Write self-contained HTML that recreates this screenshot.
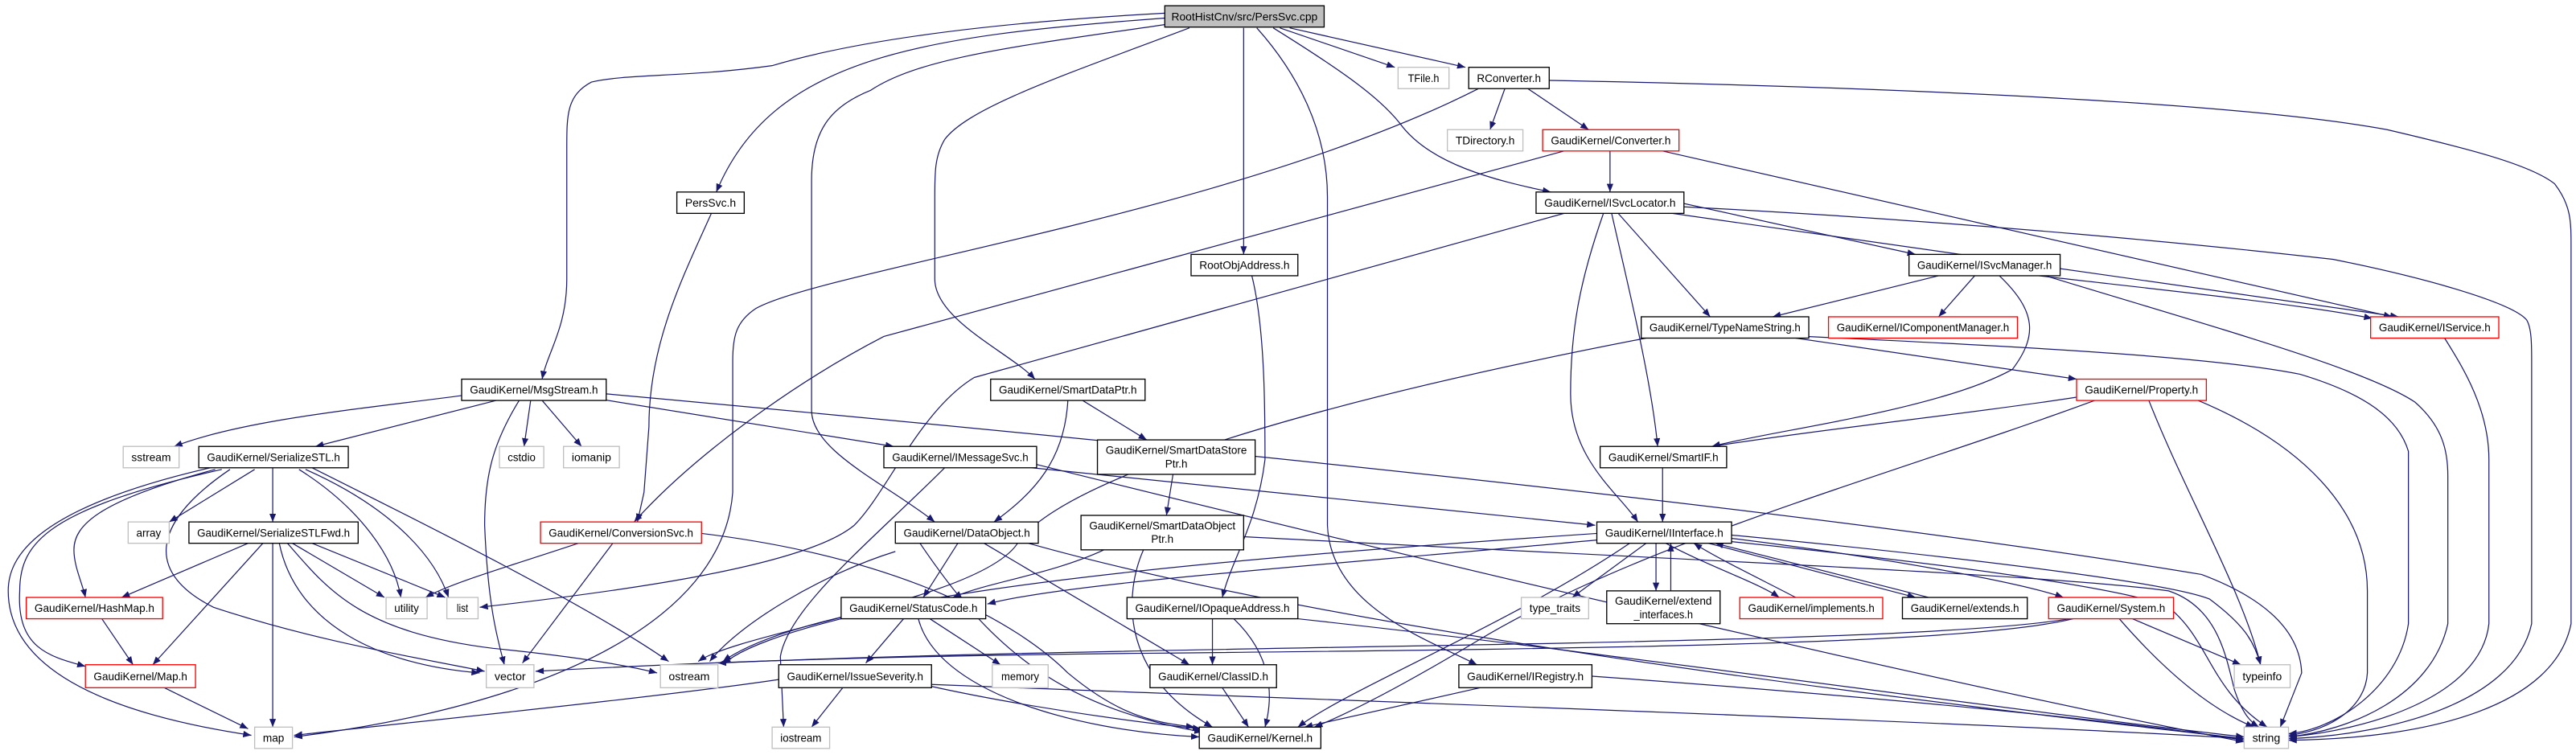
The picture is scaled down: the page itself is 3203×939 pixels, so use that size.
<!DOCTYPE html>
<html><head><meta charset="utf-8"><style>
html,body{margin:0;padding:0;background:#fff;}
svg{display:block;}
text{font-family:"Liberation Sans",sans-serif;font-size:6.6px;fill:#000;}
</style></head><body>
<svg width="3203" height="939" viewBox="0 0 1568 460" preserveAspectRatio="none" xmlns="http://www.w3.org/2000/svg">
<defs><marker id="a" markerWidth="5" markerHeight="4" refX="5" refY="2" orient="auto" markerUnits="userSpaceOnUse"><path d="M0,0 L5,2 L0,4 z" fill="#191970"/></marker></defs>
<g fill="none" stroke="#191970" stroke-width="0.6" marker-end="url(#a)">
<path d="M709,11 C560,22 470,35 436,117"/>
<path d="M709,8 C600,14 520,25 470,40 C420,47 380,45 360,50 C345,58 345,70 345,90 L345,170 C345,200 333,215 330,231"/>
<path d="M709,15 C620,28 560,35 530,55 C505,65 494,80 494,110 L494,250 C494,275 540,295 569,318"/>
<path d="M724,17 C650,45 590,65 575,85 C569,95 569,105 569,120 L569,170 C569,195 615,215 630,231"/>
<path d="M757,17 L757,155"/>
<path d="M765,17 C790,45 808,80 808,120 L808,320 C810,370 870,390 899,405"/>
<path d="M775,17 C820,45 840,60 852,75 C870,100 910,110 944,117"/>
<path d="M779,17 L849,41"/>
<path d="M785,17 L892,41"/>
<path d="M916,54 L907,79"/>
<path d="M930,54 L967,79"/>
<path d="M943,49 C1100,52 1350,60 1453,79 C1500,90 1540,100 1555,112 C1565,125 1565,135 1565,150 L1565,380 C1555,430 1480,450 1393,451"/>
<path d="M900,54 C750,130 500,165 460,188 C448,196 446,205 446,220 L446,300 C440,380 330,430 179,449"/>
<path d="M980,92 L980,117"/>
<path d="M952,92 L538,205 C480,235 420,280 386,318"/>
<path d="M1012,92 L1456,193"/>
<path d="M433,130 C415,170 395,210 395,260 L392,300 L388,318"/>
<path d="M952,130 L593,230 C560,250 540,300 520,320 C490,345 380,360 292,370"/>
<path d="M1025,124 L1166,155"/>
<path d="M985,130 L1041,193"/>
<path d="M981,130 C990,170 1005,230 1009,272"/>
<path d="M976,130 C962,170 956,200 956,240 C956,280 985,300 997,318"/>
<path d="M1025,126 C1200,135 1350,150 1420,158 C1480,170 1530,185 1538,195 C1541,200 1541,210 1541,220 L1541,380 C1530,430 1450,448 1393,450"/>
<path d="M1018,130 L1460,193"/>
<path d="M1180,168 L1079,193"/>
<path d="M1202,168 L1180,193"/>
<path d="M1217,168 C1240,190 1240,205 1225,225 C1180,250 1080,262 1042,272"/>
<path d="M1241,168 C1300,175 1400,185 1444,194"/>
<path d="M1245,168 C1350,200 1440,225 1470,245 C1487,260 1490,275 1490,290 L1490,380 C1480,425 1430,445 1393,449"/>
<path d="M1093,206 L1264,231"/>
<path d="M1100,205 C1250,212 1350,218 1400,228 C1440,240 1460,255 1466,275 L1466,380 C1460,420 1420,445 1393,447"/>
<path d="M1002,206 C800,245 650,290 620,330 C600,365 450,385 425,403"/>
<path d="M281,241 C230,248 150,255 106,272"/>
<path d="M302,244 L192,272"/>
<path d="M316,244 C300,270 295,290 295,320 C297,370 303,390 307,405"/>
<path d="M323,244 L319,272"/>
<path d="M330,244 L354,272"/>
<path d="M364,243 L544,272"/>
<path d="M369,240 C700,270 1100,310 1340,350 C1380,365 1400,385 1401,410 L1388,443"/>
<path d="M659,244 L698,268"/>
<path d="M650,244 C648,280 630,300 605,318"/>
<path d="M714,289 L710,314"/>
<path d="M672,335 C640,350 600,355 580,364"/>
<path d="M696,335 C685,360 680,410 738,443"/>
<path d="M757,327 C1000,340 1250,350 1320,360 C1350,370 1355,400 1360,420 C1365,435 1370,440 1375,443"/>
<path d="M628,285 L971,320"/>
<path d="M575,285 C530,330 480,370 475,400 L477,443"/>
<path d="M631,283 C900,350 1200,420 1366,452"/>
<path d="M583,331 L562,364"/>
<path d="M599,331 L724,405"/>
<path d="M560,331 C600,390 640,430 732,446"/>
<path d="M626,331 C800,380 1100,420 1366,450"/>
<path d="M545,336 C500,350 450,380 432,403"/>
<path d="M512,377 C480,385 450,395 440,405"/>
<path d="M550,377 L527,404"/>
<path d="M566,377 L609,405"/>
<path d="M559,377 C570,420 650,445 730,449"/>
<path d="M474,414 C400,425 250,440 179,448"/>
<path d="M513,419 L494,443"/>
<path d="M566,418 C620,430 690,440 731,444"/>
<path d="M567,417 C900,430 1200,440 1366,450"/>
<path d="M738,377 L738,405"/>
<path d="M751,377 C775,400 775,425 770,443"/>
<path d="M790,377 C1000,400 1200,430 1366,449"/>
<path d="M744,419 L760,443"/>
<path d="M901,419 L794,443"/>
<path d="M969,412 C1150,425 1300,440 1366,451"/>
<path d="M972,325 C750,340 500,360 440,403"/>
<path d="M992,331 C920,380 820,420 790,443"/>
<path d="M972,329 C800,345 650,355 601,368"/>
<path d="M1262,377 C1200,392 1000,395 700,398 C500,400 400,405 326,409"/>
<path d="M1260,377 C1150,395 700,392 437,404"/>
<path d="M1002,331 L957,364"/>
<path d="M1008,331 L1008,360"/>
<path d="M1017,360 L1017,331"/>
<path d="M1014,331 C1040,345 1070,355 1083,364"/>
<path d="M1093,364 C1070,352 1045,340 1031,331"/>
<path d="M1040,331 L1166,364"/>
<path d="M1174,364 L1044,331"/>
<path d="M1054,328 C1150,340 1230,355 1256,364"/>
<path d="M1054,326 C1200,340 1320,355 1345,365 C1365,380 1372,390 1376,405"/>
<path d="M1054,330 C1200,345 1300,360 1320,370 C1345,390 1345,420 1380,443"/>
<path d="M1012,285 L1012,318"/>
<path d="M1264,242 C1200,252 1120,260 1042,272"/>
<path d="M1275,244 C1150,290 1000,330 900,390 C850,420 820,435 800,443"/>
<path d="M1308,244 C1330,300 1365,360 1376,405"/>
<path d="M1338,244 C1400,270 1441,310 1441,360 L1441,410 C1440,430 1420,445 1393,448"/>
<path d="M1298,377 L1364,405"/>
<path d="M1290,377 C1310,400 1340,430 1372,443"/>
<path d="M1488,206 C1500,225 1515,250 1515,280 L1515,380 C1510,425 1440,445 1393,449"/>
<path d="M155,286 L103,318"/>
<path d="M166,285 L166,318"/>
<path d="M182,286 C220,310 240,340 244,364"/>
<path d="M186,286 C240,310 265,340 273,364"/>
<path d="M190,285 C260,320 360,370 407,403"/>
<path d="M131,286 C60,305 45,320 45,335 C45,345 50,355 52,364"/>
<path d="M135,286 C30,310 12,330 12,360 C10,395 30,400 52,406"/>
<path d="M128,285 C20,310 5,340 5,360 C5,420 100,440 153,448"/>
<path d="M140,286 C90,320 90,350 130,370 C190,390 250,400 295,409"/>
<path d="M151,331 L74,364"/>
<path d="M160,331 L93,405"/>
<path d="M166,331 L166,443"/>
<path d="M170,331 C180,380 230,405 292,410"/>
<path d="M175,331 C200,360 220,385 300,395 C350,400 380,405 400,410"/>
<path d="M178,331 L234,364"/>
<path d="M190,331 L271,364"/>
<path d="M352,331 C310,345 275,355 259,364"/>
<path d="M373,331 L318,404"/>
<path d="M427,325 C550,340 620,380 650,410 C680,435 700,440 727,443"/>
<path d="M62,377 L81,405"/>
<path d="M100,419 L151,444"/>
<path d="M762,168 C770,200 770,250 770,280 C765,320 750,340 744,364"/>
</g>
<g stroke-width="0.65" fill="#fff">
<rect x="709" y="3.5" width="97" height="13" fill="#bfbfbf" stroke="#000"/>
<rect x="851" y="41" width="31" height="13" stroke="#bfbfbf"/>
<rect x="894" y="41" width="49" height="13" stroke="#000"/>
<rect x="881" y="79" width="46" height="13" stroke="#bfbfbf"/>
<rect x="939" y="79" width="83" height="13" stroke="#f00"/>
<rect x="412" y="117" width="41" height="13" stroke="#000"/>
<rect x="935" y="117" width="90" height="13" stroke="#000"/>
<rect x="725" y="155" width="65" height="13" stroke="#000"/>
<rect x="1162" y="155" width="92" height="13" stroke="#000"/>
<rect x="999" y="193" width="102" height="13" stroke="#000"/>
<rect x="1113" y="193" width="115" height="13" stroke="#f00"/>
<rect x="1443" y="193" width="78" height="13" stroke="#f00"/>
<rect x="281" y="231" width="88" height="13" stroke="#000"/>
<rect x="603" y="231" width="94" height="13" stroke="#000"/>
<rect x="1264" y="231" width="79" height="13" stroke="#f00"/>
<rect x="75" y="272" width="34" height="13" stroke="#bfbfbf"/>
<rect x="121" y="272" width="91" height="13" stroke="#000"/>
<rect x="304" y="272" width="27" height="13" stroke="#bfbfbf"/>
<rect x="343" y="272" width="34" height="13" stroke="#bfbfbf"/>
<rect x="538" y="272" width="93" height="13" stroke="#000"/>
<rect x="668" y="268" width="96" height="21" stroke="#000"/>
<rect x="974" y="272" width="77" height="13" stroke="#000"/>
<rect x="78" y="318" width="25" height="13" stroke="#bfbfbf"/>
<rect x="115" y="318" width="103" height="13" stroke="#000"/>
<rect x="329" y="318" width="98" height="13" stroke="#f00"/>
<rect x="545" y="318" width="87" height="13" stroke="#000"/>
<rect x="658" y="314" width="99" height="21" stroke="#000"/>
<rect x="972" y="318" width="82" height="13" stroke="#000"/>
<rect x="16" y="364" width="83" height="13" stroke="#f00"/>
<rect x="235" y="364" width="25" height="13" stroke="#bfbfbf"/>
<rect x="272" y="364" width="19" height="13" stroke="#bfbfbf"/>
<rect x="512" y="364" width="88" height="13" stroke="#000"/>
<rect x="686" y="364" width="104" height="13" stroke="#000"/>
<rect x="926" y="364" width="41" height="13" stroke="#bfbfbf"/>
<rect x="978" y="360" width="69" height="20" stroke="#000"/>
<rect x="1059" y="364" width="87" height="13" stroke="#f00"/>
<rect x="1158" y="364" width="76" height="13" stroke="#000"/>
<rect x="1247" y="364" width="76" height="13" stroke="#f00"/>
<rect x="52" y="405" width="67" height="14" stroke="#f00"/>
<rect x="296" y="405" width="29" height="14" stroke="#bfbfbf"/>
<rect x="402" y="405" width="35" height="14" stroke="#bfbfbf"/>
<rect x="474" y="405" width="93" height="14" stroke="#000"/>
<rect x="604" y="405" width="34" height="14" stroke="#bfbfbf"/>
<rect x="700" y="405" width="77" height="14" stroke="#000"/>
<rect x="888" y="405" width="81" height="14" stroke="#000"/>
<rect x="1360" y="405" width="34" height="14" stroke="#bfbfbf"/>
<rect x="155" y="443" width="23" height="13" stroke="#bfbfbf"/>
<rect x="470" y="443" width="35" height="13" stroke="#bfbfbf"/>
<rect x="730" y="443" width="74" height="13" stroke="#000"/>
<rect x="1366" y="443" width="27" height="13" stroke="#bfbfbf"/>
</g>
<g text-anchor="middle" lengthAdjust="spacingAndGlyphs">
<text x="757.5" y="12.4" textLength="89" lengthAdjust="spacingAndGlyphs">RootHistCnv/src/PersSvc.cpp</text>
<text x="866.5" y="49.9" textLength="19" lengthAdjust="spacingAndGlyphs">TFile.h</text>
<text x="918.5" y="49.9" textLength="39" lengthAdjust="spacingAndGlyphs">RConverter.h</text>
<text x="904" y="87.9" textLength="36" lengthAdjust="spacingAndGlyphs">TDirectory.h</text>
<text x="980.5" y="87.9" textLength="73" lengthAdjust="spacingAndGlyphs">GaudiKernel/Converter.h</text>
<text x="432.5" y="125.9" textLength="31" lengthAdjust="spacingAndGlyphs">PersSvc.h</text>
<text x="980" y="125.9" textLength="80" lengthAdjust="spacingAndGlyphs">GaudiKernel/ISvcLocator.h</text>
<text x="757.5" y="163.9" textLength="55" lengthAdjust="spacingAndGlyphs">RootObjAddress.h</text>
<text x="1208" y="163.9" textLength="82" lengthAdjust="spacingAndGlyphs">GaudiKernel/ISvcManager.h</text>
<text x="1050" y="201.9" textLength="92" lengthAdjust="spacingAndGlyphs">GaudiKernel/TypeNameString.h</text>
<text x="1170.5" y="201.9" textLength="105" lengthAdjust="spacingAndGlyphs">GaudiKernel/IComponentManager.h</text>
<text x="1482" y="201.9" textLength="68" lengthAdjust="spacingAndGlyphs">GaudiKernel/IService.h</text>
<text x="325" y="239.9" textLength="78" lengthAdjust="spacingAndGlyphs">GaudiKernel/MsgStream.h</text>
<text x="650" y="239.9" textLength="84" lengthAdjust="spacingAndGlyphs">GaudiKernel/SmartDataPtr.h</text>
<text x="1303.5" y="239.9" textLength="69" lengthAdjust="spacingAndGlyphs">GaudiKernel/Property.h</text>
<text x="92" y="280.9" textLength="24" lengthAdjust="spacingAndGlyphs">sstream</text>
<text x="166.5" y="280.9" textLength="81" lengthAdjust="spacingAndGlyphs">GaudiKernel/SerializeSTL.h</text>
<text x="317.5" y="280.9" textLength="17" lengthAdjust="spacingAndGlyphs">cstdio</text>
<text x="360" y="280.9" textLength="24" lengthAdjust="spacingAndGlyphs">iomanip</text>
<text x="584.5" y="280.9" textLength="83" lengthAdjust="spacingAndGlyphs">GaudiKernel/IMessageSvc.h</text>
<text x="716" y="276.5" textLength="86" lengthAdjust="spacingAndGlyphs">GaudiKernel/SmartDataStore</text>
<text x="716" y="284.8">Ptr.h</text>
<text x="1012.5" y="280.9" textLength="67" lengthAdjust="spacingAndGlyphs">GaudiKernel/SmartIF.h</text>
<text x="90.5" y="326.9" textLength="15" lengthAdjust="spacingAndGlyphs">array</text>
<text x="166.5" y="326.9" textLength="93" lengthAdjust="spacingAndGlyphs">GaudiKernel/SerializeSTLFwd.h</text>
<text x="378" y="326.9" textLength="88" lengthAdjust="spacingAndGlyphs">GaudiKernel/ConversionSvc.h</text>
<text x="588.5" y="326.9" textLength="77" lengthAdjust="spacingAndGlyphs">GaudiKernel/DataObject.h</text>
<text x="707.5" y="322.5" textLength="89" lengthAdjust="spacingAndGlyphs">GaudiKernel/SmartDataObject</text>
<text x="707.5" y="330.8">Ptr.h</text>
<text x="1013" y="326.9" textLength="72" lengthAdjust="spacingAndGlyphs">GaudiKernel/IInterface.h</text>
<text x="57.5" y="372.9" textLength="73" lengthAdjust="spacingAndGlyphs">GaudiKernel/HashMap.h</text>
<text x="247.5" y="372.9" textLength="15" lengthAdjust="spacingAndGlyphs">utility</text>
<text x="281.5" y="372.9" textLength="7" lengthAdjust="spacingAndGlyphs">list</text>
<text x="556" y="372.9" textLength="78" lengthAdjust="spacingAndGlyphs">GaudiKernel/StatusCode.h</text>
<text x="738" y="372.9" textLength="94" lengthAdjust="spacingAndGlyphs">GaudiKernel/IOpaqueAddress.h</text>
<text x="946.5" y="372.9" textLength="31" lengthAdjust="spacingAndGlyphs">type_traits</text>
<text x="1012.5" y="368.5" textLength="59" lengthAdjust="spacingAndGlyphs">GaudiKernel/extend</text>
<text x="1012.5" y="376.8" textLength="36" lengthAdjust="spacingAndGlyphs">_interfaces.h</text>
<text x="1102.5" y="372.9" textLength="77" lengthAdjust="spacingAndGlyphs">GaudiKernel/implements.h</text>
<text x="1196" y="372.9" textLength="66" lengthAdjust="spacingAndGlyphs">GaudiKernel/extends.h</text>
<text x="1285" y="372.9" textLength="66" lengthAdjust="spacingAndGlyphs">GaudiKernel/System.h</text>
<text x="85.5" y="414.4" textLength="57" lengthAdjust="spacingAndGlyphs">GaudiKernel/Map.h</text>
<text x="310.5" y="414.4" textLength="19" lengthAdjust="spacingAndGlyphs">vector</text>
<text x="419.5" y="414.4" textLength="25" lengthAdjust="spacingAndGlyphs">ostream</text>
<text x="520.5" y="414.4" textLength="83" lengthAdjust="spacingAndGlyphs">GaudiKernel/IssueSeverity.h</text>
<text x="621" y="414.4" textLength="23" lengthAdjust="spacingAndGlyphs">memory</text>
<text x="738.5" y="414.4" textLength="67" lengthAdjust="spacingAndGlyphs">GaudiKernel/ClassID.h</text>
<text x="928.5" y="414.4" textLength="71" lengthAdjust="spacingAndGlyphs">GaudiKernel/IRegistry.h</text>
<text x="1377" y="414.4" textLength="24" lengthAdjust="spacingAndGlyphs">typeinfo</text>
<text x="166.5" y="451.9" textLength="13" lengthAdjust="spacingAndGlyphs">map</text>
<text x="487.5" y="451.9" textLength="25" lengthAdjust="spacingAndGlyphs">iostream</text>
<text x="767" y="451.9" textLength="64" lengthAdjust="spacingAndGlyphs">GaudiKernel/Kernel.h</text>
<text x="1379.5" y="451.9" textLength="17" lengthAdjust="spacingAndGlyphs">string</text>
</g>
</svg>
</body></html>
